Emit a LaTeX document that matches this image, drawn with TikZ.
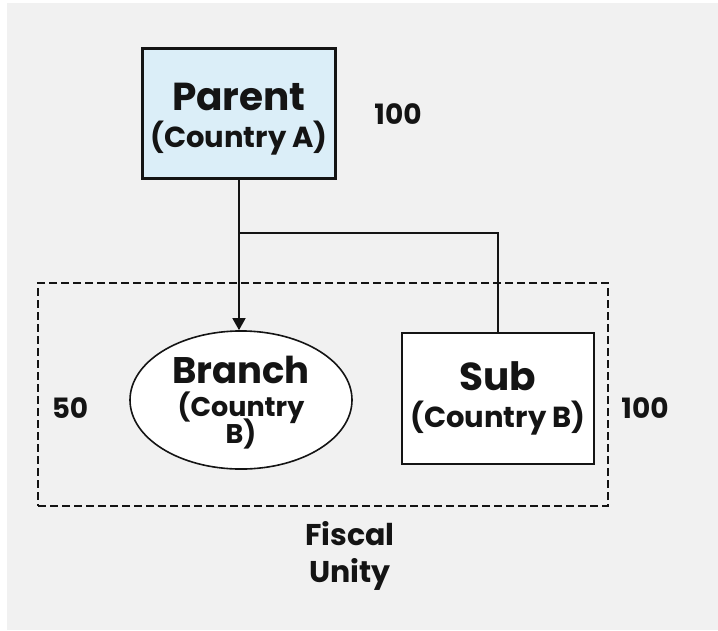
\documentclass[tikz,border=0pt]{standalone}
\usepackage{fontspec}
\setmainfont{Poppins}
\usetikzlibrary{positioning, shapes.geometric, arrows.meta}
\definecolor{paper}{RGB}{241,241,241}
\definecolor{parentblue}{RGB}{219,238,248}
\definecolor{ink}{RGB}{20,20,20}
\newcommand{\tightlines}{\lineskiplimit=-100pt\relax}

\begin{document}
\begin{tikzpicture}[x=1pt, y=-1pt, font=\bfseries, text=ink,
  block/.style={rectangle, draw=ink, line width=2.4pt, minimum width=193pt, minimum height=130pt, align=center, inner sep=0pt,
    font=\bfseries\fontsize{39}{37}\selectfont, execute at begin node=\tightlines},
  oval/.style={ellipse, draw=ink, line width=1.6pt, fill=white, minimum width=222pt, minimum height=133pt, align=center, inner sep=0pt,
    font=\bfseries\fontsize{37}{27}\selectfont, execute at begin node=\tightlines},
  num/.style={font=\bfseries\fontsize{28}{28}\selectfont},
  link/.style={draw=ink, line width=1.6pt}]
\useasboundingbox (0,0) rectangle (718,630);
\fill[paper] (7,3) rectangle (718,630);

\node (parent) [block, fill=parentblue] at (239,113.5) {\rule{0pt}{38pt}Parent\\{\fontsize{29}{30}\selectfont (Country A)}};
\node (branch) [oval] at (241,400) {\rule{0pt}{32pt}Branch\\[6pt]{\fontsize{27}{28}\selectfont (Country}\\{\fontsize{27}{28}\selectfont B)}};
\node (sub) [block, fill=white, minimum width=192pt, minimum height=131pt] at (498,398.5) {Sub\\{\fontsize{29}{30}\selectfont (Country B)}};
\node (unity) [rectangle, draw=ink, line width=1.8pt, dash pattern=on 8pt off 4pt, minimum width=570pt, minimum height=223pt] at (323,394.5) {};

\node (pshare) [num] at (398,114) {100};
\node (bshare) [num] at (70,408) {50};
\node (sshare) [num] at (645,408) {100};
\node (label) [align=center, font=\bfseries\fontsize{30}{37}\selectfont] at (350,556) {Fiscal\\Unity};

\coordinate (fork) at (parent.south |- 0,233);
\draw [link, -{Triangle[length=12pt, width=13pt]}] (parent.south) -- (parent.south |- branch.north);
\draw [link] (fork) -| (sub.north);
\end{tikzpicture}
\end{document}
